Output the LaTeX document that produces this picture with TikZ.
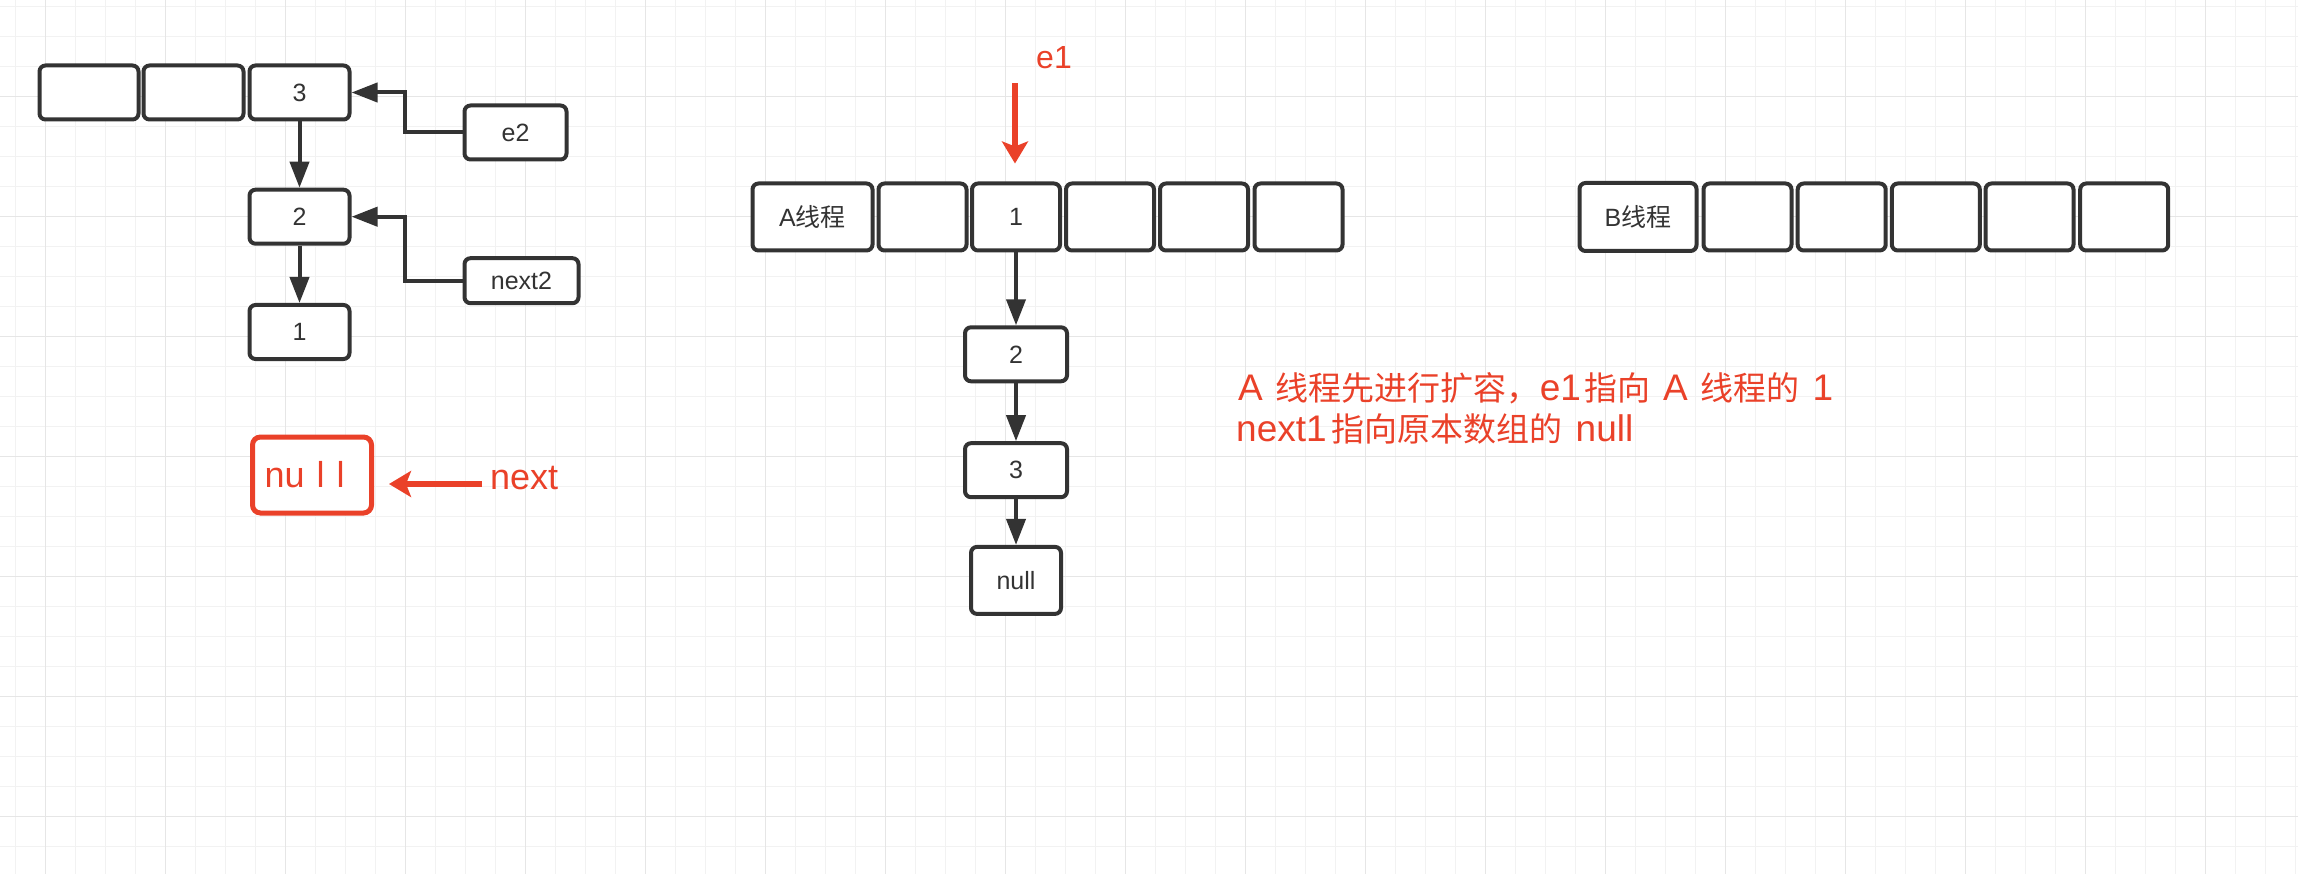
\documentclass[tikz,border=0pt]{standalone}
\usepackage{fontspec}
\setmainfont{Liberation Sans}
\newfontfamily\cjk{Noto Sans CJK SC}
\usetikzlibrary{arrows.meta}
\definecolor{dk}{HTML}{333333}
\definecolor{rd}{HTML}{EA4129}
\definecolor{gmin}{HTML}{F2F2F2}
\definecolor{gmaj}{HTML}{E6E6E6}
\newcommand{\zh}[1]{{\cjk #1}}
\newcommand{\zhbig}[1]{{\cjk\fontsize{33}{40}\selectfont #1}}
\newcommand{\gap}{\hspace{13pt}}
\begin{document}
\begin{tikzpicture}[x=1pt,y=-1pt,
  gridminor/.style={draw=gmin,line width=1pt},
  gridmajor/.style={draw=gmaj,line width=1.4pt},
  cell/.style={draw=dk,line width=4pt,rounded corners=6pt,fill=white,inner sep=0pt,
    font=\fontsize{25}{30}\selectfont,text=dk},
  arrcell/.style={cell,minimum width=88pt,minimum height=67pt},
  conn/.style={draw=dk,line width=4pt,-{Triangle[length=26pt,width=19pt]}},
  redarr/.style={draw=rd,line width=5.5pt,-{Stealth[length=22pt,width=26pt,inset=5pt]}},
  redtext/.style={text=rd,inner sep=0pt,font=\fontsize{36}{40}\selectfont},
  nullbox/.style={draw=rd,line width=5pt,rounded corners=8pt,fill=white,
    inner xsep=12pt,inner ysep=0pt,text width=95pt,align=left,minimum height=76pt,
    text=rd,font=\fontsize{36}{40}\selectfont}]
\useasboundingbox (0,0) rectangle (2298,874);
\fill[white] (0,0) rectangle (2298,874);
% grid
\foreach \k in {0,...,76} \draw[gridminor] ({15.2+30*\k},0) -- ({15.2+30*\k},874);
\foreach \k in {0,...,28} \draw[gridminor] (0,{6.7+30*\k}) -- (2298,{6.7+30*\k});
\foreach \k in {0,...,18} \draw[gridmajor] ({45.2+120*\k},0) -- ({45.2+120*\k},874);
\foreach \k in {0,...,6} \draw[gridmajor] (0,{96.7+120*\k}) -- (2298,{96.7+120*\k});

% ---- left group ----
\node[cell,minimum width=99pt,minimum height=54pt] (L1) at (89,92.5) {};
\node[cell,minimum width=100pt,minimum height=54pt] (L2a) at (193.5,92.5) {};
\node[cell,minimum width=100pt,minimum height=54pt] (L3) at (299.5,92.5) {3};
\node[cell,minimum width=102pt,minimum height=54pt] (e2) at (515.5,132.5) {e2};
\node[cell,minimum width=100pt,minimum height=54pt] (n2) at (299.5,216.7) {2};
\node[cell,minimum width=100pt,minimum height=54pt] (n1) at (299.5,332) {1};
\node[cell,minimum width=114pt,minimum height=45pt] (next2) at (521.5,280.7) {next2};
\node[nullbox] (nullbox) at (312,475) {nu l l};
\node[redtext,anchor=base west] (nextlbl) at (490,489) {next};
\coordinate (nexttail) at (482,484);

\draw[conn] (L3) -- (n2);
\draw[conn] (n2) -- (n1);
\draw[conn] (e2.west) -- ++(-58,0) |- (L3.east);
\draw[conn] (next2.west) -- ++(-58,0) |- (n2.east);
\draw[redarr,shorten >=15pt] (nexttail) -- (nexttail -| nullbox.east);

% ---- thread A ----
\node[cell,minimum width=120pt,minimum height=67pt] (A1) at (812.5,217) {A\zh{线程}};
\node[arrcell] (A2) at (922.5,217) {};
\node[arrcell] (A3) at (1016,217) {1};
\node[arrcell] (A4) at (1110,217) {};
\node[arrcell] (A5) at (1204,217) {};
\node[arrcell] (A6) at (1298.5,217) {};
\node[cell,minimum width=102pt,minimum height=54pt] (c2) at (1016,354.3) {2};
\node[cell,minimum width=102pt,minimum height=54pt] (c3) at (1016,470.2) {3};
\node[cell,minimum width=90pt,minimum height=67pt] (cnull) at (1016,580.4) {null};
\draw[conn] (A3) -- (c2);
\draw[conn] (c2) -- (c3);
\draw[conn] (c3) -- (cnull);

\node[redtext,anchor=base west,font=\fontsize{32}{36}\selectfont] (e1) at (1036,68.3) {e1};
\coordinate (e1tail) at (1015,83.5);
\draw[redarr,shorten >=18pt] (e1tail) -- (e1tail |- A3.north);

% ---- annotation ----
\node[redtext,anchor=base west,font=\fontsize{37}{40}\selectfont] (ann1) at (1238,400.7)
  {A\gap\zhbig{线程先进行扩容，}e1\hspace{3pt}\zhbig{指向}\gap A\gap\zhbig{线程的}\gap 1};
\node[redtext,anchor=base west,font=\fontsize{37}{40}\selectfont] (ann2) at (1236,441.7)
  {next1\hspace{5pt}\zhbig{指向原本数组的}\gap null};

% ---- thread B ----
\node[cell,minimum width=117pt,minimum height=68pt] (B1) at (1638,217) {B\zh{线程}};
\node[arrcell] (B2) at (1747.5,217) {};
\node[arrcell] (B3) at (1841.7,217) {};
\node[arrcell] (B4) at (1935.8,217) {};
\node[arrcell] (B5) at (2029.5,217) {};
\node[arrcell] (B6) at (2124.2,217) {};
\end{tikzpicture}
\end{document}
